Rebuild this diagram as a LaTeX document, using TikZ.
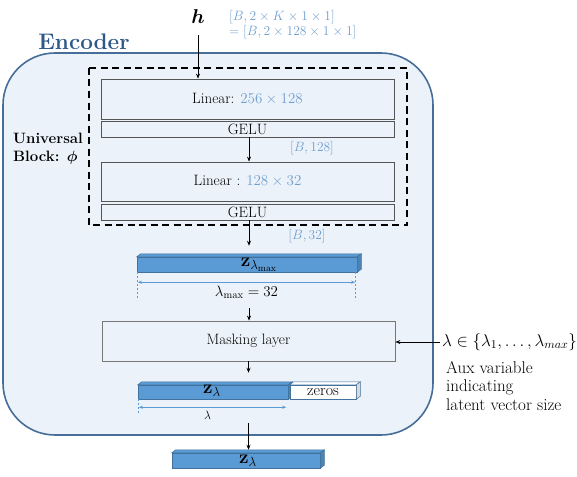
\RequirePackage{fix-cm}
\documentclass[tikz,border=0pt]{standalone}
\usepackage{amsmath,amssymb}
\usetikzlibrary{arrows.meta,calc}

\definecolor{encfill}{RGB}{236,242,249}
\definecolor{encrand}{RGB}{70,110,152}
\definecolor{enctext}{RGB}{46,88,136}
\definecolor{dimblau}{RGB}{112,158,206}
\definecolor{barblau}{RGB}{91,155,213}
\definecolor{barrand}{RGB}{65,113,156}
\definecolor{boxgrau}{RGB}{85,85,85}

\tikzset{
  schicht/.style={draw=boxgrau, line width=0.8pt, minimum width=293pt, inner sep=0pt,
    font=\fontsize{15}{17}\selectfont},
  pfeil/.style={-{Stealth[length=5pt,width=4pt]}, line width=0.7pt},
  balken/.style={fill=barblau, draw=barrand, line width=0.5pt, inner sep=0pt},
  ztext/.style={font=\fontsize{19}{19}\selectfont, inner sep=0pt},
  mass/.style={{Stealth[length=4pt,width=3pt]}-{Stealth[length=4pt,width=3pt]},
    draw=barblau, line width=0.6pt},
  hilf/.style={draw=barblau, line width=0.4pt, dash pattern=on 2pt off 2pt},
  dimtext/.style={text=dimblau, font=\fontsize{13.5}{15}\selectfont},
}

% 3D-Balken: Deckflaeche und Seitenflaeche an einen Knoten haengen
\newcommand{\quader}[2]{%
  \filldraw[fill=#2, draw=barrand, line width=0.5pt] (#1.north west) -- ++(4,-3)
    -- ([shift={(4,-3)}]#1.north east) -- (#1.north east) -- cycle;
  \filldraw[fill=#2!85!black, draw=barrand, line width=0.5pt] (#1.north east)
    -- ([shift={(4,-3)}]#1.north east) -- ([shift={(4,-3)}]#1.south east)
    -- (#1.south east) -- cycle;}

\begin{document}
\begin{tikzpicture}[x=1pt,y=-1pt]
  \useasboundingbox (0,0) rectangle (577,476);
  % Encoder-Rahmen mit Ueberschrift:
  \filldraw[fill=encfill, draw=encrand, line width=1.6pt, rounded corners=52pt]
    (3,53) rectangle (433,435);
  \node[font=\bfseries\fontsize{22.5}{24}\selectfont, text=enctext] (enc) at (84,42) {Encoder};
  % gestrichelter Universal Block:
  \draw[line width=1.8pt, dash pattern=on 7pt off 4.5pt] (89,68) rectangle (407,225);
  \node[anchor=west, align=left, font=\bfseries\fontsize{15}{18}\selectfont, inner sep=0pt]
    (ub) at (13,149) {Universal\\Block: $\boldsymbol{\phi}$};
  % Eingang h und Dimensionen:
  \node[font=\fontsize{20}{20}\selectfont] (h) at (198,17) {$\boldsymbol{h}$};
  \node[dimtext, anchor=north west, align=left, inner sep=0pt] (dh) at (229,10)
    {$[B,2\times K\times 1\times 1]$\\$=[B,2\times 128\times 1\times 1]$};
  % Schichten im Block:
  \node[schicht, minimum height=40pt] (lin1) at (247.5,99) {Linear: \textcolor{dimblau}{$256\times 128$}};
  \node[schicht, minimum height=16pt] (gelu1) at (247.5,129) {GELU};
  \node[schicht, minimum height=39pt] (lin2) at (247.5,181.5) {Linear : \textcolor{dimblau}{$128\times 32$}};
  \node[schicht, minimum height=16pt] (gelu2) at (247.5,212) {GELU};
  \node[dimtext] (d128) at (312,148) {$[B,128]$};
  \node[dimtext] (d32) at (307,236) {$[B,32]$};
  % Balken z_lambda_max mit Massangabe:
  \node[balken, minimum width=220pt, minimum height=15pt] (zmax) at (247,264.5) {};
  \quader{zmax}{barblau}
  \node[ztext] (zmaxt) at (259,265) {$\mathbf{z}_{\lambda_{\max}}$};
  \draw[hilf] (zmax.south west) -- ++(0,28);
  \draw[hilf] ([xshift=-2pt]zmax.south east) -- ++(0,28);
  \draw[mass] ($(zmax.south west)+(1,10)$) -- ($(zmax.south east)+(-2,10)$)
    node[midway, below=0pt, font=\fontsize{15}{16}\selectfont] {$\lambda_{\max}=32$};
  % Maskierung:
  \node[schicht, draw=boxgrau!80, minimum height=40pt] (mask) at (248.5,341) {Masking layer};
  \node[anchor=west, font=\fontsize{17}{18}\selectfont, inner sep=2pt] (lam) at (440,342)
    {$\lambda\in\{\lambda_1,\ldots,\lambda_{max}\}$};
  \node[anchor=north west, align=left, font=\fontsize{17}{18.5}\selectfont, inner sep=0pt]
    (aux) at (446,361) {Aux variable\\indicating\\latent vector size};
  % Balken z_lambda und Nullen:
  \node[balken, minimum width=150pt, minimum height=14pt] (zlam) at (213,392) {};
  \quader{zlam}{barblau}
  \node[ztext] (zlamt) at (212,391) {$\mathbf{z}_{\lambda}$};
  \node[balken, fill=white, minimum width=66pt, minimum height=14pt,
    font=\fontsize{16}{14}\selectfont] (zeros) at (323,392) {zeros};
  \quader{zeros}{white}
  \draw[hilf] (zlam.south west) -- ++(0,14);
  \draw[mass] ($(zlam.south west)+(1,8)$) -- ($(zlam.south east)+(-2,8)$)
    node[midway, below=0pt, xshift=-5pt, font=\fontsize{12}{12}\selectfont] {$\lambda$};
  % Ausgang:
  \node[balken, minimum width=148pt, minimum height=15pt] (zout) at (246,460.5) {};
  \quader{zout}{barblau}
  \node[ztext] (zoutt) at (248,461) {$\mathbf{z}_{\lambda}$};
  % Pfeile:
  \draw[pfeil, shorten <=8pt] (h) -- (h |- lin1.north);
  \draw[pfeil] ([xshift=1.5pt]gelu1.south) -- ([xshift=1.5pt]lin2.north);
  \draw[pfeil, shorten >=11pt] ([xshift=1.5pt]gelu2.south) -- ([xshift=1.5pt]gelu2.south |- zmax.north);
  \draw[pfeil, shorten <=36pt] ([xshift=2pt]zmax.south) -- ([xshift=2pt]zmax.south |- mask.north);
  \draw[pfeil, shorten >=12pt] (mask.south) -- (mask.south |- zlam.north);
  \draw[pfeil, shorten <=24pt, shorten >=3pt] (mask.south |- zlam.south) -- (mask.south |- zout.north);
  \draw[pfeil] (lam.west) -- (lam.west -| mask.east);
\end{tikzpicture}
\end{document}
